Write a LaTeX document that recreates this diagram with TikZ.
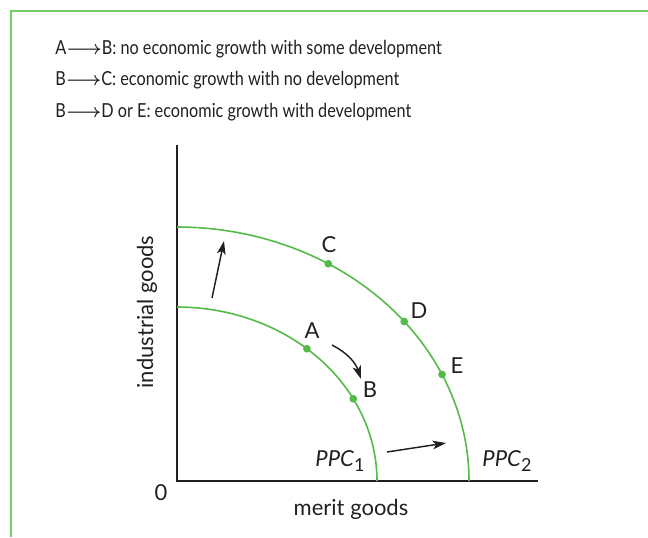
\documentclass[tikz,border=0pt]{standalone}
\usepackage{amsmath,amssymb}
\usepackage{fontspec}
\setmainfont{Lato}
\newfontfamily\keyfont[FakeStretch=0.84]{Lato}
\usepackage{xcolor}
\usepackage{tikz}
\usetikzlibrary{positioning,arrows.meta}

\definecolor{ppcgreen}{RGB}{84,186,72}
\definecolor{framegreen}{RGB}{118,204,104}
\definecolor{inkgray}{RGB}{35,31,32}

\newcommand{\keyarrow}{$\boldsymbol{\longrightarrow}$}

\tikzset{
  ppc/.style={ppcgreen, line width=1.2pt},
  ppcdot/.style={circle, fill=ppcgreen, inner sep=0pt, minimum size=5.8pt},
  lbl/.style={font=\fontsize{16.5}{19}\selectfont, text=inkgray, inner sep=1pt},
  note/.style={font=\keyfont\fontsize{14.5}{17}\selectfont, text=inkgray, anchor=base west, inner sep=0pt},
  move/.style={-{Stealth[length=10pt, width=6.5pt, inset=2.5pt]}, line width=1.1pt, inkgray}
}

\begin{document}
\begin{tikzpicture}[x=0.75pt, y=0.75pt]
    \useasboundingbox (0,0) rectangle (648,537);
    % frame
    \draw[framegreen, line width=1pt] (11,0) -- (11,526) -- (648,526);

    % key
    \node[note] (keyAB) at (55,483) {A\keyarrow B: no economic growth with some development};
    \node[note] (keyBC) at (55,451.5) {B\keyarrow C: economic growth with no development};
    \node[note] (keyBDE) at (55,420) {B\keyarrow D or E: economic growth with development};

    % axes
    \coordinate (O) at (177,56);
    \draw[inkgray, line width=1.1pt] (177,392) -- (O) -- (538,56);
    \node[lbl] (zero) at (161,44) {0};
    \node[lbl] (xlab) at (351,28) {merit goods};
    \node[lbl, rotate=90] (ylab) at (147,225) {industrial goods};

    % y = 56 + b*sin(t), x = 177 + a*cos(t)
    \draw[ppc, domain=0:90, samples=80, smooth, variable=\t] plot ({177+200*cos(\t)}, {56+174*sin(\t)});
    \draw[ppc, domain=0:90, samples=80, smooth, variable=\t] plot ({177+292*cos(\t)}, {56+254*sin(\t)});

    \node[ppcdot] (ptA) at ({177+200*cos(49.5)}, {56+174*sin(49.5)}) {};
    \node[ppcdot] (ptB) at ({177+200*cos(28.2)}, {56+174*sin(28.2)}) {};
    \node[ppcdot] (ptC) at ({177+292*cos(58.8)}, {56+254*sin(58.8)}) {};
    \node[ppcdot] (ptD) at ({177+292*cos(38.9)}, {56+254*sin(38.9)}) {};
    \node[ppcdot] (ptE) at ({177+292*cos(24.8)}, {56+254*sin(24.8)}) {};

    \node[lbl] (labA) at (312,206) {A};
    \node[lbl] (labB) at (370,147) {B};
    \node[lbl] (labC) at (329,292) {C};
    \node[lbl] (labD) at (419,226) {D};
    \node[lbl] (labE) at (457,171) {E};

    \node[lbl] (ppc1) at (340,76) {\textit{PPC}\raisebox{-0.45ex}{\fontsize{13.5}{15}\selectfont 1}};
    \node[lbl] (ppc2) at (507,76) {\textit{PPC}\raisebox{-0.45ex}{\fontsize{13.5}{15}\selectfont 2}};

    % shifts
    \coordinate (upS) at (212,239);
    \coordinate (upE) at (224,296);
    \coordinate (abS) at (332,192);
    \coordinate (abE) at (361,158);
    \coordinate (rtS) at (387,85);
    \coordinate (rtE) at (446,94);
    \draw[move] (upS) -- (upE);
    \draw[move] (abS) to[bend left=22] (abE);
    \draw[move] (rtS) -- (rtE);
\end{tikzpicture}
\end{document}
